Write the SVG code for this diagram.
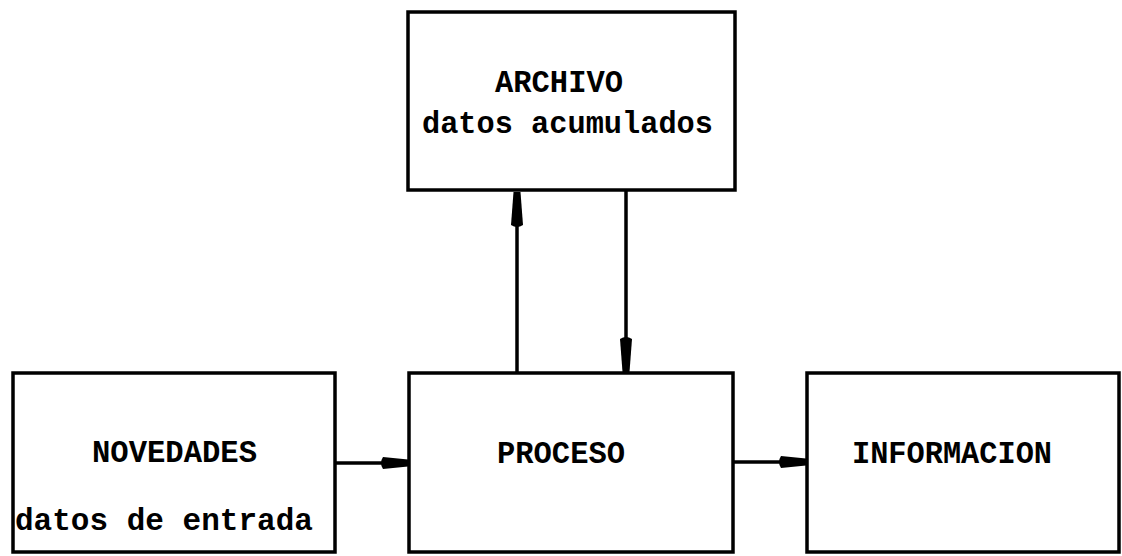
<svg xmlns="http://www.w3.org/2000/svg" width="1122" height="556" viewBox="0 0 1122 556">
<style>
.box{fill:#fff;stroke:#000;stroke-width:3.5}
.t{font-family:"Liberation Mono","Courier New",monospace;font-weight:bold;font-size:30.5px;fill:#000}
.c{stroke:#000;stroke-width:3.5;fill:none}
</style>
<defs>
<marker id="hl" markerUnits="userSpaceOnUse" viewBox="-2 -8 40 16" markerWidth="40" markerHeight="16" refX="36" refY="0" orient="auto" overflow="visible">
<path d="M3,-6 L36,-3.5 L36,3.5 L3,6 Q-1,0 3,-6 Z" fill="#000"/>
</marker>
<marker id="hs" markerUnits="userSpaceOnUse" viewBox="-2 -8 32 16" markerWidth="32" markerHeight="16" refX="28" refY="0" orient="auto" overflow="visible">
<path d="M3,-6 L28,-3.5 L28,3.5 L3,6 Q-1,0 3,-6 Z" fill="#000"/>
</marker>
</defs>
<rect width="1122" height="556" fill="#fff"/>
<g id="connectors">
<line class="c" x1="517" y1="373" x2="517" y2="192" marker-end="url(#hl)"/>
<line class="c" x1="626" y1="190" x2="626" y2="372" marker-end="url(#hl)"/>
<line class="c" x1="335" y1="463" x2="408" y2="463" marker-end="url(#hs)"/>
<line class="c" x1="733" y1="462" x2="806" y2="462" marker-end="url(#hs)"/>
</g>
<g id="archivo">
<rect class="box" x="408" y="12" width="327" height="178"/>
<text class="t" x="495" y="92" textLength="128" lengthAdjust="spacingAndGlyphs">ARCHIVO</text>
<text class="t" x="422" y="133" textLength="291" lengthAdjust="spacingAndGlyphs">datos acumulados</text>
</g>
<g id="novedades">
<rect class="box" x="13" y="373" width="322" height="179"/>
<text class="t" x="92" y="462" textLength="165" lengthAdjust="spacingAndGlyphs">NOVEDADES</text>
<text class="t" x="15" y="530" textLength="298" lengthAdjust="spacingAndGlyphs">datos de entrada</text>
</g>
<g id="proceso">
<rect class="box" x="409" y="373" width="324" height="179"/>
<text class="t" x="497" y="463" textLength="128" lengthAdjust="spacingAndGlyphs">PROCESO</text>
</g>
<g id="informacion">
<rect class="box" x="807" y="373" width="312" height="179"/>
<text class="t" x="852" y="463" textLength="200" lengthAdjust="spacingAndGlyphs">INFORMACION</text>
</g>
</svg>
